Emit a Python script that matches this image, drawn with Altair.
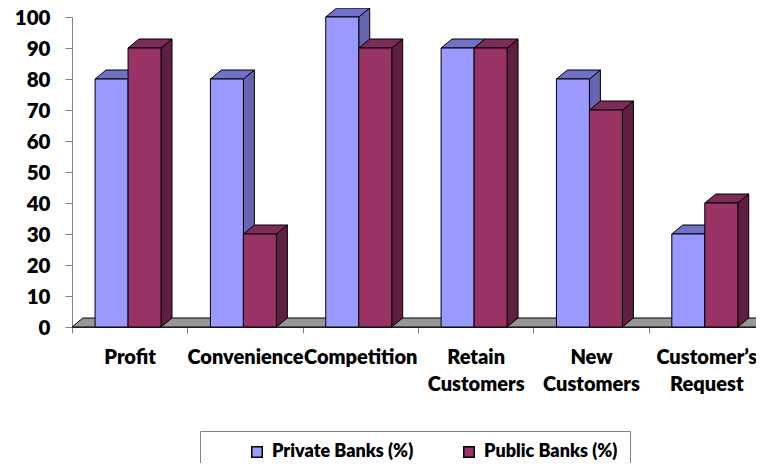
import json
import pandas as pd
import altair as alt

# ---- data ----
categories = ["Profit", "Convenience", "Competition", "Retain Customers",
              "New Customers", "Customer’s Request"]
series_names = ["Private Banks (%)", "Public Banks (%)"]
private_values = [80, 80, 100, 90, 80, 30]
public_values = [90, 30, 90, 90, 70, 40]
y_ticks = list(range(0, 101, 10))

# ---- style (3-D geometry expressed in data units) ----
BAR_START = [0.2, 0.486]
BAR_W = 0.286
DX = 0.095
DY = 2.9
N = len(categories)
FRONT = ["#9999FF", "#993366"]
TOP = ["#7171CA", "#7B2C58"]
SIDE = ["#6565B0", "#5E1F40"]
FONT = "Lato"
WEIGHT = 800

front_rows, top_rows, side_rows = [], [], []
for s, (name, vals) in enumerate(zip(series_names, [private_values, public_values])):
    for i, (cat, v) in enumerate(zip(categories, vals)):
        x0 = i + BAR_START[s]
        x1 = x0 + BAR_W
        fid = f"f{s}{i}"
        front_rows.append(dict(series=name, category=cat, value=v, x0=x0, x1=x1, s=s))
        for k, (px, yu, yl) in enumerate([(x0, v, v), (x0 + DX, v + DY, v),
                                          (x1, v + DY, v), (x1 + DX, v + DY, v + DY)]):
            top_rows.append(dict(s=s, face=fid, k=k, px=px, py=yu, py2=yl))
        for k, (px, yu, yl) in enumerate([(x1, v, 0), (x1 + DX, v + DY, DY)]):
            side_rows.append(dict(s=s, face=fid, k=k, px=px, py=yu, py2=yl))

floor_rows = [dict(face="floor", k=k, px=px, py=yu, py2=yl) for k, (px, yu, yl) in
              enumerate([(0, 0, 0), (DX, DY, 0), (N, DY, 0), (N + DX, DY, DY)])]

front_df = pd.DataFrame(front_rows)
top_df = pd.DataFrame(top_rows)
side_df = pd.DataFrame(side_rows)
floor_df = pd.DataFrame(floor_rows)

x_scale = alt.Scale(domain=[0, 5.93], nice=False, zero=False)
y_scale = alt.Scale(domain=[0, 100], nice=False)

label_expr = "split(" + json.dumps(categories, ensure_ascii=False) + "[datum.value], ' ')"

x_axis = alt.Axis(values=list(range(N)), labelExpr=label_expr, labelOffset=57.6,
                  labelAlign="center", labelBaseline="top", labelLineHeight=27,
                  labelFont=FONT, labelFontSize=20, labelFontWeight=WEIGHT,
                  labelColor="black", labelPadding=14, labelOverlap=False,
                  labelFlush=False, labelBound=False, tickSize=6, tickColor="#808080",
                  domainColor="#404040", grid=False, title=None)
y_axis = alt.Axis(values=y_ticks, labelFont=FONT, labelFontSize=20.5, labelFontWeight=WEIGHT,
                  labelColor="black", labelPadding=15, labelOffset=1.5, tickSize=7,
                  tickColor="#808080", domainColor="#808080", grid=False, title=None)


def area_layer(df, fill):
    return alt.Chart(df).mark_area(fill=fill, stroke="black", strokeWidth=1, orient="vertical",
                                   opacity=1, interpolate="linear").encode(
        x=alt.X("px:Q", scale=x_scale, axis=x_axis),
        y=alt.Y("py:Q", scale=y_scale, axis=y_axis, stack=None),
        y2="py2:Q",
        detail="face:N",
    )


layers = [area_layer(floor_df, "#979797")]
for s in range(2):
    layers.append(area_layer(side_df[side_df.s == s], SIDE[s]))
    layers.append(area_layer(top_df[top_df.s == s], TOP[s]))
    layers.append(
        alt.Chart(front_df[front_df.s == s]).mark_rect(stroke="black", strokeWidth=1).encode(
            x=alt.X("x0:Q", scale=x_scale, axis=x_axis),
            x2="x1:Q",
            y=alt.Y("value:Q", scale=y_scale, axis=y_axis),
            y2=alt.datum(0),
            color=alt.Color("series:N",
                            scale=alt.Scale(domain=series_names, range=FRONT),
                            legend=alt.Legend(title=None, orient="none", legendX=128, legendY=414,
                                              direction="horizontal", symbolType="square",
                                              symbolSize=110, symbolStrokeColor="black",
                                              symbolStrokeWidth=1.5, symbolOffset=36,
                                              labelFont=FONT, labelFontSize=18,
                                              labelFontWeight=WEIGHT, labelColor="black",
                                              labelOffset=6, columnPadding=10,
                                              padding=12, strokeColor="#808080",
                                              fillColor="white")),
        )
    )

chart = alt.layer(*layers).properties(
    width=684, height=310,
    padding={"left": 64, "top": 9, "right": 0, "bottom": 136},
    autosize=alt.AutoSizeParams(type="none"),
).configure_view(stroke=None)

chart.save("out.html", embed_options={"renderer": "svg", "actions": False})
